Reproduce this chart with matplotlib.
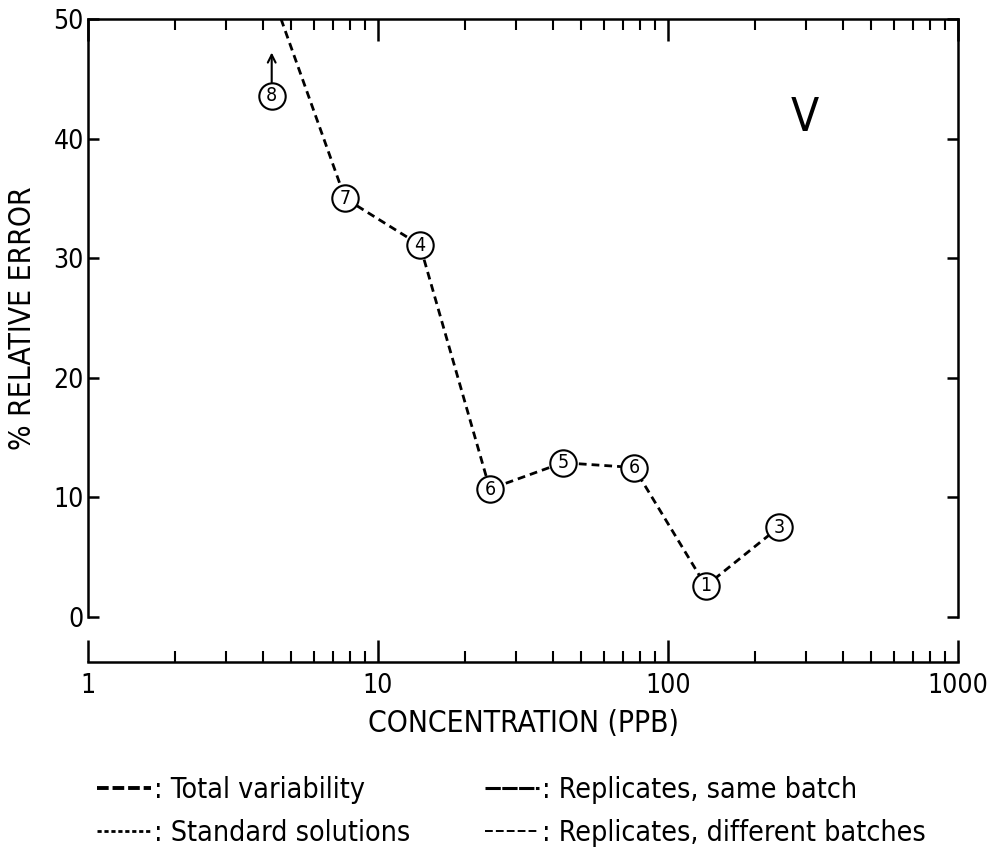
import matplotlib
matplotlib.use("Agg")
import matplotlib.pyplot as plt
from matplotlib.lines import Line2D
from matplotlib.ticker import LogLocator, NullFormatter, FixedLocator, FixedFormatter

plt.rcParams['font.family'] = ['DejaVu Sans']
plt.rcParams['font.stretch'] = 'condensed'

# ---- data ----
conc = [7.7, 13.95, 24.3, 43.4, 76.3, 135, 241]
rel_err = [35.0, 31.1, 10.7, 12.9, 12.5, 2.6, 7.5]
n_labels = ['7', '4', '6', '5', '6', '1', '3']
# dashed line continues off the top of the chart
line_start_x = 4.63
line_start_y = 50.0
# separate point (lower bound, arrow up)
conc_8 = 4.30
err_8 = 43.6
label_8 = '8'

x_ticks = [1, 10, 100, 1000]
x_ticklabels = ['1', '10', '100', '1000']
y_ticks = [0, 10, 20, 30, 40, 50]
legend_labels = [': Total variability', ': Standard solutions',
                 ': Replicates, same batch', ': Replicates, different batches']

fig = plt.figure(figsize=(9.88, 8.47), dpi=100)
ax = fig.add_axes([88/988, 1-617/847, (958-88)/988, (617-19)/847])
ax.set_xscale('log')
ax.set_xlim(1, 1000)
ax.set_ylim(0, 50)

lw = 1.8
for s in ['left', 'right', 'top', 'bottom']:
    ax.spines[s].set_linewidth(lw)
ax.spines['bottom'].set_position(('outward', 32.4))

ax.xaxis.set_major_locator(FixedLocator(x_ticks))
ax.xaxis.set_major_formatter(FixedFormatter(x_ticklabels))
ax.xaxis.set_minor_locator(LogLocator(base=10, subs=range(2, 10)))
ax.xaxis.set_minor_formatter(NullFormatter())
ax.set_yticks(y_ticks)

ax.tick_params(axis='x', which='major', direction='in', top=True, bottom=True,
               length=16, width=lw, labelsize=19, pad=8)
ax.tick_params(axis='x', which='minor', direction='in', top=True, bottom=True,
               length=8, width=1.5)
ax.tick_params(axis='y', which='major', direction='in', left=True, right=True,
               length=8, width=lw, labelsize=19, pad=3)

# dashed line through points
ax.plot([line_start_x] + conc, [line_start_y] + rel_err, ls=(0, (2.8, 1.8)),
        color='black', lw=2.0, zorder=2, clip_on=True)

# circled labels
ax.plot(conc + [conc_8], rel_err + [err_8], ls='none', marker='o', markersize=19,
        mfc='white', mec='black', mew=1.5, zorder=3)
for x, y, t in zip(conc + [conc_8], rel_err + [err_8], n_labels + [label_8]):
    ax.text(x, y, t, ha='center', va='center', fontsize=14, zorder=4)

ax.annotate('', xy=(conc_8, err_8 + 3.6), xytext=(conc_8, err_8),
            arrowprops=dict(arrowstyle='->', lw=1.5, color='black',
                            shrinkA=9.5, shrinkB=0, mutation_scale=14))

ax.text(297, 41.7, 'V', ha='center', va='center', fontsize=33, color='black')

ax.set_xlabel('CONCENTRATION (PPB)', fontsize=21.5, labelpad=7)
ax.set_ylabel('% RELATIVE ERROR', fontsize=21.5, labelpad=12)

handles = [
    Line2D([], [], color='black', lw=2.8, ls=(0, (3.0, 1.0))),
    Line2D([], [], color='black', lw=2.0, ls=(0, (1.5, 1.0))),
    Line2D([], [], color='black', lw=2.2, ls=(0, (5, 0.5))),
    Line2D([], [], color='black', lw=1.4, ls=(0, (4.0, 1.6))),
]
fig.legend(handles, legend_labels, loc='upper left', bbox_to_anchor=(86/988, 1-765/847),
           ncol=2, frameon=False, fontsize=20.5, handlelength=1.9, handletextpad=0.1,
           columnspacing=2.6, labelspacing=0.5, borderaxespad=0)

fig.savefig('out.png', dpi=100)
